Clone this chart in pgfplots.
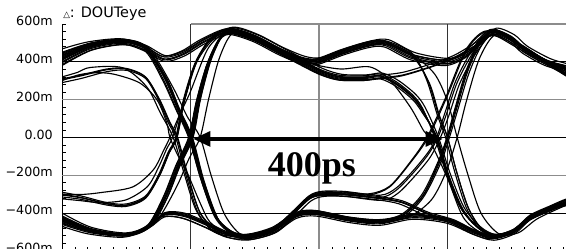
\documentclass[border=0pt]{standalone}
\usepackage{pgfplots}
\pgfplotsset{compat=1.18}
\usepackage{fontspec}
\setmainfont{DejaVu Sans}
\newfontfamily\timesfont{Liberation Serif}
\usetikzlibrary{arrows.meta}
\definecolor{gridgray}{rgb}{0.55,0.55,0.55}
\pgfplotsset{trace/.style={black, line width=0.85pt, smooth, no markers}}
\begin{document}
\begin{tikzpicture}
\begin{axis}[
  scale only axis, width=385.5pt, height=170.1pt,
  xmin=0, xmax=800, ymin=-600, ymax=600,
  axis x line*=bottom, axis y line*=left,
  axis line style={-, black, line width=0.6pt},
  xtick={0,200,...,800}, xticklabels={},
  ytick={-600,-400,...,600},
  yticklabels={−600m,−400m,−200m,0.00,200m,400m,600m},
  minor x tick num=9, minor y tick num=4,
  tick align=inside, major tick length=3pt, minor tick length=3pt,
  tick style={black, line width=0.5pt},
  yticklabel style={anchor=east, inner sep=0pt, xshift=-6.75pt, yshift=2.25pt, font=\fontsize{9.5}{11}\selectfont},
  clip mode=individual,
]
% bounding box corners (crop)
\coordinate (bbSW) at (axis cs:-96.5,-590);
\coordinate (bbNE) at (axis cs:784.4,727);
% grid
\draw[gridgray, line width=1pt] (axis cs:0,200) -- (axis cs:800,200);
\draw[gridgray, line width=1pt] (axis cs:0,-200) -- (axis cs:800,-200);
\draw[gridgray, line width=1pt] (axis cs:200,600) -- (axis cs:800,600);
\draw[black, line width=0.5pt] (axis cs:0,400) -- (axis cs:800,400);
\draw[black, line width=0.5pt] (axis cs:0,0) -- (axis cs:800,0);
\draw[black, line width=0.5pt] (axis cs:0,-400) -- (axis cs:800,-400);
\draw[black!80, line width=0.5pt] (axis cs:200,-600) -- (axis cs:200,600);
\draw[gridgray, line width=0.8pt] (axis cs:400,-600) -- (axis cs:400,600);
\draw[black!80, line width=0.5pt] (axis cs:600,-600) -- (axis cs:600,600);
% ---- traces that are high after the first crossing ----
\addplot[trace] coordinates {(0,410) (45,480) (95,505) (130,470) (160,415) (190,445) (222,510) (262,565) (300,528) (340,458) (375,410) (400,405) (440,455) (480,495) (505,498) (546,430) (599,400) (630,440) (650,500) (672,560) (700,525) (720,465) (755,400) (784,372) (800,362)};
\addplot[trace] coordinates {(0,430) (45,490) (95,512) (130,478) (160,425) (190,452) (222,518) (262,572) (300,538) (340,468) (375,405) (405,355) (433,328) (470,326) (495,335) (520,295) (546,224) (561,155) (580,0) (598,-190) (620,-370) (646,-470) (672,-512) (700,-492) (728,-418) (760,-368) (800,-338)};
\addplot[trace] coordinates {(0,-430) (45,-490) (100,-515) (135,-470) (160,-320) (180,-150) (200,0) (212,200) (228,395) (245,518) (262,557) (300,520) (340,450) (375,402) (400,397) (440,447) (480,487) (505,490) (546,422) (599,392) (630,432) (650,492) (672,552) (700,517) (720,457) (755,392) (784,364) (800,354)};
\addplot[trace] coordinates {(0,-450) (45,-500) (100,-520) (135,-475) (160,-330) (182,-150) (202,0) (214,200) (230,405) (247,530) (264,570) (300,533) (340,463) (375,415) (400,410) (440,460) (480,500) (505,503) (546,435) (570,295) (586,120) (600,0) (614,-180) (632,-370) (652,-480) (674,-520) (702,-505) (730,-430) (762,-370) (800,-335)};
\addplot[trace] coordinates {(0,-415) (45,-482) (100,-510) (135,-462) (160,-315) (180,-145) (199,0) (211,200) (227,395) (244,520) (261,560) (300,523) (340,453) (375,390) (405,340) (433,313) (470,311) (495,320) (520,280) (546,209) (561,140) (583,0) (601,-200) (623,-380) (649,-480) (673,-520) (701,-500) (729,-425) (761,-375) (800,-345)};
\addplot[trace] coordinates {(0,-300) (30,-302) (60,-292) (110,-262) (142,-172) (158,-70) (168,0) (183,120) (199,235) (226,463) (250,550) (264,577) (300,540) (340,470) (375,422) (400,417) (440,467) (480,507) (505,510) (546,442) (568,300) (584,120) (597,0) (611,-180) (629,-370) (649,-480) (671,-520) (699,-505) (727,-430) (759,-370) (800,-335)};
\addplot[trace] coordinates {(0,-325) (30,-335) (60,-345) (100,-330) (133,-260) (150,-160) (163,-60) (172,0) (190,190) (210,400) (237,525) (262,555) (300,518) (340,448) (375,385) (405,335) (433,308) (470,306) (495,315) (530,330) (570,370) (610,420) (645,490) (672,545) (705,490) (740,420) (784,335) (800,320)};
\addplot[trace] coordinates {(0,-460) (45,-505) (100,-522) (135,-478) (162,-330) (183,-150) (203,0) (215,200) (231,404) (248,529) (265,569) (300,532) (340,462) (375,399) (405,349) (433,322) (470,320) (495,329) (530,344) (570,384) (610,434) (645,504) (672,559) (705,504) (740,434) (784,349) (800,334)};
\addplot[trace] coordinates {(0,395) (45,470) (95,498) (130,462) (160,410) (190,440) (222,505) (262,561) (300,524) (340,454) (375,406) (400,401) (440,451) (480,491) (505,494) (546,426) (572,285) (587,120) (600,0) (614,-180) (632,-370) (652,-480) (674,-520) (702,-505) (730,-430) (762,-370) (800,-335)};
\addplot[trace] coordinates {(0,-300) (30,-318) (70,-350) (100,-358) (130,-315) (151,-200) (166,-80) (178,0) (190,200) (208,400) (233,530) (262,565) (300,528) (340,458) (375,395) (405,345) (433,318) (470,316) (495,325) (520,285) (546,214) (561,145) (582,0) (600,-200) (622,-380) (648,-480) (672,-520) (700,-500) (728,-425) (760,-375) (800,-345)};
\addplot[trace] coordinates {(0,450) (45,500) (95,520) (130,488) (162,432) (192,462) (225,528) (266,583) (304,546) (344,476) (379,428) (404,423) (444,473) (484,513) (509,516) (550,448) (603,418) (634,458) (654,518) (676,578) (704,543) (724,483) (759,418) (784,392) (800,380)};
\addplot[trace] coordinates {(0,-440) (45,-497) (100,-518) (132,-472) (157,-320) (177,-150) (197,0) (209,190) (225,380) (242,500) (259,545) (297,508) (337,438) (372,390) (397,385) (437,435) (477,475) (502,478) (543,410) (596,380) (627,420) (647,480) (669,540) (697,505) (717,445) (752,380) (784,352) (800,342)};
\addplot[trace] coordinates {(0,385) (45,462) (95,492) (130,455) (160,402) (190,430) (222,495) (262,550) (300,513) (340,443) (375,380) (405,330) (433,303) (470,301) (495,310) (520,270) (546,199) (561,130) (584,0) (602,-200) (624,-380) (650,-485) (674,-525) (702,-505) (730,-430) (762,-380) (800,-350)};
\addplot[trace] coordinates {(0,-315) (30,-328) (70,-358) (100,-365) (130,-322) (152,-200) (167,-80) (179,0) (191,200) (209,400) (234,532) (262,573) (300,536) (340,466) (375,418) (400,413) (440,463) (480,503) (505,506) (546,438) (599,408) (630,448) (650,508) (672,568) (700,533) (720,473) (755,408) (784,380) (800,370)};
\addplot[trace] coordinates {(0,-425) (45,-487) (100,-512) (139,-466) (164,-318) (184,-148) (204,0) (216,210) (232,410) (249,535) (266,580) (304,543) (344,473) (379,410) (409,360) (437,333) (474,331) (499,340) (524,300) (550,229) (565,160) (586,0) (604,-190) (626,-372) (652,-475) (676,-515) (704,-495) (732,-420) (764,-370) (800,-340)};
\addplot[trace] coordinates {(0,468) (40,505) (90,522) (125,492) (155,430) (185,455) (217,520) (257,575) (295,538) (335,468) (370,420) (395,415) (435,465) (475,505) (500,508) (541,440) (594,410) (625,450) (645,510) (667,570) (695,535) (715,475) (750,410) (784,378) (800,368)};
\addplot[trace] coordinates {(0,-290) (30,-310) (70,-345) (100,-352) (130,-310) (150,-200) (165,-80) (177,0) (189,200) (207,390) (232,518) (260,553) (298,516) (338,446) (373,398) (398,393) (438,443) (478,483) (503,486) (544,418) (597,388) (628,428) (648,488) (670,548) (698,513) (718,453) (753,388) (784,360) (800,350)};
\addplot[trace] coordinates {(0,-400) (45,-475) (100,-505) (135,-458) (159,-310) (179,-140) (198,0) (210,200) (226,390) (243,510) (260,550) (298,513) (338,443) (373,380) (403,330) (431,303) (468,301) (493,310) (528,325) (568,365) (608,415) (643,485) (670,540) (703,485) (738,415) (784,330) (800,315)};
\addplot[trace] coordinates {(0,-440) (45,-495) (100,-518) (135,-470) (160,-325) (181,-150) (201,0) (213,200) (229,400) (246,525) (263,565) (300,528) (340,455) (386,392) (433,362) (479,373) (510,304) (542,161) (562,40) (570,0) (599,-209) (624,-420) (650,-500) (675,-520) (705,-495) (730,-430) (762,-375) (800,-340)};
\addplot[trace] coordinates {(0,-305) (30,-320) (70,-352) (100,-360) (130,-318) (152,-200) (167,-80) (179,0) (191,200) (209,400) (234,530) (262,570) (300,533) (340,463) (375,415) (400,410) (440,460) (480,500) (505,503) (546,438) (580,335) (600,190) (615,0) (632,-200) (652,-400) (680,-510) (710,-505) (740,-430) (784,-360) (800,-345)};
\addplot[trace] coordinates {(0,-425) (45,-488) (100,-513) (135,-478) (155,-405) (180,-250) (198,-110) (215,0) (228,200) (243,400) (258,520) (272,560) (305,528) (340,460) (375,405) (405,350) (433,320) (470,318) (495,327) (520,287) (546,216) (561,147) (582,0) (600,-200) (622,-380) (648,-480) (672,-520) (700,-500) (728,-425) (760,-375) (800,-345)};
% ---- traces that are low after the first crossing ----
\addplot[trace] coordinates {(0,410) (45,480) (95,505) (130,470) (160,310) (180,150) (200,0) (218,-220) (240,-420) (265,-505) (290,-525) (330,-488) (360,-400) (385,-320) (405,-297) (440,-298) (495,-318) (520,-280) (546,-190) (570,-90) (585,0) (598,120) (615,290) (640,450) (668,560) (700,525) (720,465) (755,400) (784,360) (800,348)};
\addplot[trace] coordinates {(0,440) (45,495) (95,515) (130,480) (162,315) (182,150) (202,0) (220,-225) (242,-428) (267,-515) (292,-535) (332,-498) (365,-420) (395,-408) (448,-443) (495,-457) (546,-425) (599,-446) (640,-505) (672,-536) (705,-500) (728,-430) (760,-380) (784,-345) (800,-335)};
\addplot[trace] coordinates {(0,-430) (45,-490) (100,-515) (135,-470) (160,-405) (190,-410) (225,-455) (260,-510) (290,-519) (330,-482) (365,-404) (395,-392) (448,-427) (495,-441) (530,-414) (562,-309) (588,-129) (601,0) (614,150) (631,345) (651,496) (674,566) (710,496) (755,401) (784,336) (800,321)};
\addplot[trace] coordinates {(0,-445) (45,-495) (100,-518) (135,-475) (160,-410) (190,-418) (225,-465) (260,-520) (290,-531) (330,-494) (360,-406) (385,-326) (405,-303) (440,-304) (495,-324) (530,-346) (570,-406) (610,-446) (645,-506) (672,-531) (705,-496) (730,-431) (784,-351) (800,-336)};
\addplot[trace] coordinates {(0,310) (30,330) (70,362) (100,365) (130,320) (152,200) (168,80) (180,0) (196,-200) (215,-400) (240,-495) (270,-520) (295,-522) (330,-488) (365,-410) (395,-398) (448,-433) (495,-447) (546,-415) (599,-436) (640,-495) (672,-526) (705,-490) (728,-420) (760,-370) (784,-335) (800,-325)};
\addplot[trace] coordinates {(0,300) (25,330) (50,342) (80,335) (121,288) (148,198) (163,77) (168,0) (181,-100) (195,-188) (215,-347) (230,-447) (255,-505) (280,-515) (300,-510) (330,-480) (360,-392) (385,-312) (405,-289) (440,-290) (479,-298) (510,-258) (542,-130) (568,0) (597,210) (628,460) (658,562) (694,530) (719,473) (754,408) (784,368) (800,356)};
\addplot[trace] coordinates {(0,400) (45,475) (95,502) (130,465) (158,305) (178,150) (198,0) (216,-220) (238,-422) (263,-509) (288,-529) (330,-492) (365,-414) (395,-402) (448,-437) (495,-451) (530,-424) (562,-319) (589,-139) (603,0) (616,146) (633,336) (653,486) (676,556) (711,486) (756,391) (784,326) (800,311)};
\addplot[trace] coordinates {(0,-420) (45,-485) (100,-510) (135,-465) (160,-400) (190,-405) (225,-455) (260,-510) (290,-521) (330,-484) (365,-406) (395,-394) (448,-429) (495,-443) (546,-411) (599,-432) (640,-491) (672,-522) (705,-486) (728,-416) (760,-366) (784,-331) (800,-321)};
\addplot[trace] coordinates {(0,320) (25,345) (44,370) (95,368) (132,267) (153,130) (173,0) (190,-190) (208,-380) (230,-480) (260,-516) (290,-520) (330,-484) (360,-396) (385,-316) (405,-293) (440,-294) (495,-314) (530,-336) (570,-396) (610,-436) (645,-496) (672,-521) (705,-486) (730,-421) (784,-341) (800,-326)};
\addplot[trace] coordinates {(0,425) (45,487) (95,510) (130,475) (161,312) (181,150) (201,0) (219,-222) (241,-424) (266,-508) (291,-528) (330,-491) (360,-403) (385,-323) (405,-300) (440,-301) (495,-321) (530,-343) (570,-403) (610,-443) (645,-503) (672,-528) (705,-493) (730,-428) (784,-348) (800,-333)};
\addplot[trace] coordinates {(0,415) (45,483) (95,507) (130,472) (163,312) (183,150) (203,0) (221,-230) (243,-432) (268,-520) (293,-540) (333,-503) (363,-415) (388,-335) (408,-312) (443,-313) (498,-333) (523,-295) (549,-205) (573,-105) (589,0) (602,115) (619,285) (644,445) (672,555) (704,520) (724,460) (759,395) (784,358) (800,345)};
\addplot[trace] coordinates {(0,-455) (45,-500) (100,-520) (135,-480) (160,-420) (190,-430) (225,-478) (260,-530) (290,-543) (330,-506) (365,-428) (395,-416) (448,-451) (495,-465) (546,-433) (599,-454) (640,-513) (672,-544) (705,-508) (728,-438) (760,-388) (784,-353) (800,-343)};
\addplot[trace] coordinates {(0,305) (30,326) (70,358) (100,362) (130,318) (151,200) (167,80) (179,0) (195,-200) (214,-392) (239,-485) (269,-510) (294,-512) (330,-478) (365,-400) (395,-388) (448,-423) (495,-437) (530,-410) (562,-305) (587,-125) (600,0) (613,155) (630,350) (650,500) (673,570) (709,500) (754,405) (784,340) (800,325)};
\addplot[trace] coordinates {(0,-435) (45,-492) (100,-516) (135,-472) (160,-398) (190,-400) (225,-448) (260,-503) (290,-513) (330,-476) (360,-388) (385,-308) (405,-285) (440,-286) (495,-306) (520,-268) (546,-178) (570,-78) (583,0) (596,130) (613,300) (638,460) (666,570) (698,535) (718,475) (753,410) (784,372) (800,360)};
\addplot[trace] coordinates {(0,445) (45,498) (95,518) (130,483) (160,320) (180,152) (199,0) (217,-212) (239,-412) (264,-497) (289,-517) (329,-480) (365,-402) (395,-390) (448,-425) (495,-439) (546,-407) (599,-428) (640,-487) (672,-518) (705,-482) (728,-412) (760,-362) (784,-327) (800,-317)};
\addplot[trace] coordinates {(0,-470) (40,-510) (95,-528) (130,-490) (155,-420) (185,-425) (220,-472) (255,-527) (285,-537) (325,-500) (355,-412) (380,-332) (400,-309) (435,-310) (490,-330) (525,-352) (565,-412) (605,-452) (640,-512) (667,-537) (700,-502) (725,-437) (784,-357) (800,-342)};
\addplot[trace] coordinates {(0,290) (30,312) (70,348) (100,355) (130,312) (150,200) (165,80) (177,0) (193,-200) (212,-400) (237,-500) (267,-525) (292,-527) (330,-493) (360,-405) (385,-325) (405,-302) (440,-303) (495,-323) (530,-345) (570,-405) (610,-445) (645,-505) (672,-530) (705,-495) (730,-430) (784,-350) (800,-335)};
\addplot[trace] coordinates {(0,380) (45,460) (95,490) (130,455) (157,300) (177,150) (197,0) (215,-208) (237,-408) (262,-493) (287,-513) (327,-476) (363,-398) (393,-386) (446,-421) (493,-435) (528,-408) (560,-303) (586,-123) (599,0) (612,158) (629,352) (649,502) (672,572) (708,502) (753,407) (784,342) (800,327)};
\addplot[trace] coordinates {(0,420) (45,485) (95,508) (130,474) (160,312) (181,150) (201,0) (219,-222) (241,-424) (266,-508) (291,-528) (330,-490) (360,-400) (385,-318) (405,-298) (440,-300) (479,-304) (510,-262) (542,-135) (570,0) (599,214) (630,463) (660,560) (695,528) (720,465) (755,400) (784,365) (800,352)};
\addplot[trace] coordinates {(0,-440) (45,-493) (100,-517) (135,-472) (160,-408) (190,-414) (225,-460) (260,-514) (290,-524) (330,-487) (365,-409) (395,-397) (448,-432) (495,-446) (540,-420) (575,-330) (598,-180) (615,0) (630,200) (650,420) (675,545) (710,500) (755,400) (784,335) (800,320)};
\addplot[trace] coordinates {(0,435) (45,492) (95,513) (132,482) (150,400) (175,250) (195,110) (215,0) (232,-200) (252,-400) (275,-505) (298,-528) (330,-495) (365,-418) (395,-405) (448,-440) (495,-452) (546,-420) (599,-440) (640,-500) (672,-530) (705,-495) (728,-425) (760,-375) (784,-340) (800,-330)};
% ---- annotations ----
\draw[black, line width=3pt, {Triangle[length=13pt,width=11pt]}-{Triangle[length=13pt,width=11pt]}] (axis cs:204,-8) -- (axis cs:593,-8);
\node[anchor=base, inner sep=0pt, font=\timesfont\bfseries\fontsize{27}{30}\selectfont] at (axis cs:389,-209) {400ps};
\node[anchor=base west, inner sep=0pt, font=\fontsize{10.8}{12}\selectfont] at (axis cs:1.6,632) {{\fontsize{6.5}{7}\selectfont △}: DOUTeye};
\end{axis}
\pgfresetboundingbox
\useasboundingbox (bbSW) rectangle (bbNE);
\end{tikzpicture}
\end{document}
